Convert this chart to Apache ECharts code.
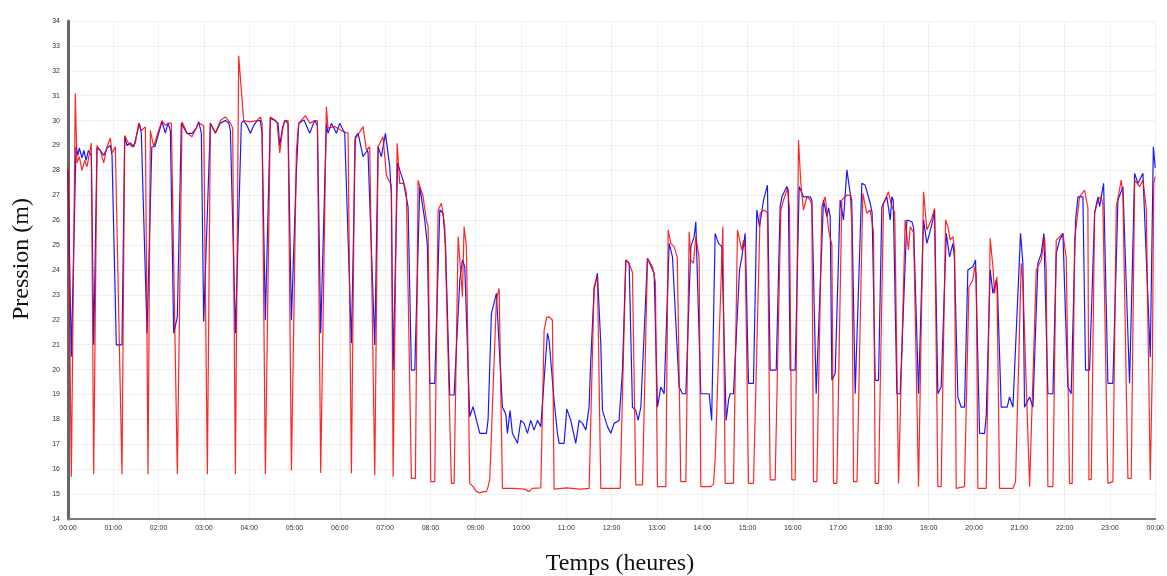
<!DOCTYPE html>
<html>
<head>
<meta charset="utf-8">
<script src="https://cdn.jsdelivr.net/npm/echarts@6/dist/echarts.min.js"></script>
<style>html,body{margin:0;padding:0;background:#fff}#c{width:1167px;height:576px}</style>
</head>
<body>
<div id="c"></div>
<script>
// time in minutes since 00:00, pressure in m
const hourLabels = ['00:00','01:00','02:00','03:00','04:00','05:00','06:00','07:00','08:00','09:00','10:00','11:00','12:00','13:00','14:00','15:00','16:00','17:00','18:00','19:00','20:00','21:00','22:00','23:00','00:00'];

const blueSeries = [
[0,28.0],[4.4,20.52],[10.6,28.95],[13,28.6],[15,28.9],[18.5,28.5],[21,28.8],[24,28.4],[27,28.8],[30.9,28.6],[34.0,21.0],
[38.4,28.9],[42.8,28.8],[47.3,28.6],[51.7,28.9],[56.1,29.0],[58.3,28.6],[64.0,20.99],[71.5,20.99],
[75.1,29.35],[78.2,29.0],[82.6,29.1],[87.0,28.95],[89.2,29.2],[94.5,29.89],[97.1,29.5],[104.7,21.46],
[111,28.95],[115,28.95],[124.5,29.96],[128.9,29.5],[132.5,29.9],[135.6,29.6],[140.0,21.46],[144.8,22.12],
[150.1,29.89],[157.6,29.49],[164.3,29.49],[170,29.7],[173.1,29.96],[176.6,29.5],[179.7,21.92],
[188.6,29.89],[195.2,29.49],[201.8,29.9],[208.4,30.0],[213,29.9],[215.1,29.6],[221.7,21.46],
[229.6,29.89],[232.7,30.0],[237,29.8],[241.6,29.49],[246,29.8],[250.4,30.0],[254.8,30.0],[257.0,29.5],[261.4,21.99],
[268.0,30.1],[274.7,30.0],[278.2,29.9],[280.4,29.0],[284,29.7],[287.0,30.0],[291.4,29.9],[295.9,21.99],
[302.5,28.0],[305.6,29.89],[306.9,29.96],[312.6,30.02],[320.2,29.49],[326.8,30.02],[330.3,29.8],[334.7,21.46],
[342.2,29.89],[344.4,29.49],[348.9,29.89],[355.5,29.49],[359.9,29.89],[364.3,29.62],[366.5,29.5],[375.4,21.06],
[380.6,29.35],[384.2,29.49],[390.8,28.55],[396.6,28.82],[397.4,28.7],[406.3,20.99],
[410.7,28.95],[415.1,28.55],[420.4,29.49],[426.1,28.15],[428.3,27.0],[430.6,19.98],
[436.5,28.3],[439.4,28.0],[443.8,27.61],[450.4,26.54],[454.8,19.98],[459.3,19.98],
[465.9,27.35],[472.5,26.01],[476,25.0],[479.1,19.45],[485.7,19.45],
[492.4,26.41],[496.8,26.28],[500,25.0],[505.6,18.98],[511.4,18.98],
[518.9,23.60],[522.4,24.40],[525.5,24.13],[532.1,18.11],[536.5,18.51],[540.9,17.98],[545.4,17.44],[554.2,17.44],[556.4,18.0],[560.8,22.26],[567.4,23.06],
[575.4,18.49],[579.8,18.22],[582.0,17.44],[585.5,18.36],[588.6,17.44],[595.3,17.04],[599.7,17.96],[604.1,17.84],[608.5,17.44],[612.9,17.96],[617.3,17.57],[621.8,17.96],[626.2,17.71],[635.0,21.46],[637.2,21.17],
[643.8,18.76],[648.2,17.44],[650.5,17.04],[657.1,17.04],[660.6,18.42],[665.9,17.96],[672.5,17.04],[677.0,17.96],[681.4,17.84],[685.8,17.57],[690.2,18.5],[692.4,20.39],[696.8,23.2],[701.2,23.87],[705.7,21.0],
[707.9,18.36],[714.5,17.71],[718.9,17.44],[723.3,17.84],[729.9,17.96],[734.4,20.0],[738.8,24.40],[743.2,24.27],[747.6,18.49],[752.0,18.36],[755.1,17.96],[758.7,18.49],
[767.5,24.47],[776.3,23.87],[780.7,18.49],[785.1,19.30],[789.6,19.03],
[796.2,25.07],[800.6,24.53],[809.4,19.30],[813.9,19.03],[818.3,19.03],
[824.9,24.94],[829.3,25.34],[831.5,25.94],[838.1,19.03],[849.2,19.03],[852.5,17.96],
[857.1,25.47],[861.5,25.07],[866.0,24.94],[871.7,17.96],[874.8,18.76],[877.0,19.03],[881.4,19.03],
[889.4,24.0],[892.5,24.53],[896.9,25.47],[901.3,19.45],[907.9,19.45],
[912.3,26.41],[915.9,25.74],[921.2,26.81],[926.4,27.41],[930.0,19.98],[938.0,19.98],
[943.2,26.54],[945.5,26.94],[952.1,27.35],[954,27.2],[956.5,19.98],[963.1,19.98],
[968.4,27.35],[974.1,26.94],[983.0,26.94],[985.2,26.8],[990.9,19.03],
[1000.6,26.81],[1005.1,26.14],[1007.3,26.5],[1009.5,26.14],[1011.7,19.57],[1016.1,19.85],
[1022.7,26.81],[1027.1,26.01],[1031.6,28.02],[1036.0,27.08],[1038,26.8],[1042.6,19.03],
[1051.4,27.48],[1055.8,27.41],[1062.5,26.68],[1065,26.3],[1069.1,19.57],[1073.5,19.57],
[1077.9,26.54],[1084.5,26.94],[1089.0,26.01],[1091.2,26.94],[1093,26.8],[1097.8,19.03],[1102.2,19.03],
[1111.0,26.01],[1117.7,25.94],[1120,25.7],[1126.5,19.03],
[1133.1,26.01],[1137.5,25.07],[1141.1,25.47],[1145.5,26.01],[1147.7,26.41],[1152.1,19.03],[1156.5,19.30],
[1163.2,25.47],[1167.6,24.53],[1172.0,25.07],[1174,24.5],[1178.6,18.90],[1183.0,18.49],[1187.4,18.49],
[1191.8,24.0],[1198.5,24.13],[1202.0,24.40],[1207.3,17.44],[1213.9,17.44],[1216.1,18.11],
[1221.4,24.0],[1225.0,23.06],[1229.4,23.60],[1231,23.3],[1236.0,18.49],[1244,18.49],[1247.0,18.90],[1251.5,18.49],
[1261.6,25.47],[1264.7,24.27],[1266.9,18.49],[1273.6,18.90],[1278.0,18.49],
[1284.6,24.27],[1289.0,24.67],[1292.5,25.47],[1297.8,19.03],[1304.5,19.03],
[1308.9,24.67],[1313.3,25.20],[1317.7,25.47],[1324.3,19.30],[1328.7,19.03],
[1334.5,26.01],[1337.6,26.94],[1344.2,26.94],[1347.7,19.98],[1353.0,19.98],
[1359.7,26.28],[1364.1,26.94],[1366.3,26.54],[1371.6,27.48],[1377.3,19.45],[1383.9,19.45],
[1390.6,26.81],[1397.2,27.35],[1406.0,19.45],
[1412.7,27.88],[1417.1,27.48],[1423.7,27.88],[1433.4,20.50],[1437.5,28.95],[1440,28.1]
];

const redSeries = [
[0,28.15],[4.4,15.7],[9.7,31.1],[11.9,28.3],[15.0,28.55],[18.5,28.0],[22.1,28.4],[25.2,28.15],[30.9,29.1],[34.0,15.8],
[38.4,29.0],[42.8,28.8],[47.3,28.3],[51.7,28.95],[56.1,29.3],[58.3,28.7],[62.7,28.95],[64.9,29.0],[71.5,15.8],
[75.1,29.4],[80,29.1],[85,28.95],[89.2,29.1],[93.6,29.9],[97.1,29.6],[102.5,29.75],[106.0,15.8],
[109.1,29.6],[113.5,28.95],[117.9,29.4],[124.5,30.0],[128.9,29.8],[132.5,29.9],[136.9,29.9],[144.8,15.8],
[151.0,29.95],[157.6,29.5],[164.3,29.35],[173.1,29.9],[179.7,29.8],[184.6,15.8],
[188.6,29.9],[195.2,29.5],[201.8,30.0],[208.4,30.15],[215.1,29.9],[218.1,29.7],[221.7,15.8],
[226.1,32.6],[229.6,31.2],[232.7,30.0],[241.6,29.95],[250.4,30.0],[254.8,30.15],[257.0,29.9],[261.4,15.8],
[268.0,30.15],[274.7,30.0],[277.0,29.9],[280.4,28.7],[284.0,29.6],[287.0,30.0],[291.4,30.0],[295.9,15.95],
[302.5,28.8],[305.6,29.9],[314.4,30.2],[320.2,29.9],[326.8,30.0],[330.3,30.0],[334.7,15.85],
[342.2,30.56],[344.4,29.7],[353.3,29.76],[364.3,29.56],[370.9,29.5],[375.4,15.84],
[379.8,29.22],[390.8,29.76],[395.2,28.82],[399.6,28.95],[401.8,28.9],[406.3,15.77],
[410.7,28.95],[417.3,29.35],[421.7,27.8],[428.3,27.4],[430.6,15.7],
[435.9,29.09],[439.4,27.48],[445.1,27.48],[448.2,27.08],[454.8,15.63],[460.1,15.63],
[463.7,27.6],[470.3,26.94],[474.7,26.0],[476.9,25.74],[480.5,15.5],[485.7,15.5],
[490.2,26.41],[494.6,26.68],[499.0,25.74],[507.8,15.43],[511.4,15.43],
[516.7,25.34],[520.2,23.9],[522.4,22.93],[524.6,25.74],[527.7,24.94],[532.1,15.43],[536.5,15.3],[540.9,15.1],[545.4,15.05],[550,15.1],[554.2,15.1],[556.4,15.3],[558.6,15.6],
[567.4,22.8],[571.0,23.26],[575.4,15.23],[590,15.23],[605,15.2],[610.7,15.1],[615,15.23],[626.2,15.25],[628.4,15.3],
[630.6,21.59],[634,22.1],[637.2,22.12],[641.6,21.99],[643.8,15.2],[660.6,15.25],[677,15.2],[690.2,15.23],
[696.8,23.33],[701.2,23.73],[705.7,15.23],[731.3,15.23],
[738.8,24.40],[743.2,24.27],[747.6,23.9],[752.0,15.37],[760.9,15.37],
[767.5,24.47],[774.1,24.13],[778,23.5],[780.7,15.30],[791.8,15.30],
[794.9,25.61],[798.4,25.07],[802.8,24.94],[807,24.5],[811.6,15.5],[818.3,15.5],
[822.7,25.54],[824.9,24.40],[828.4,24.27],[831.5,25.34],[835.9,24.5],[838.1,15.30],[851.4,15.30],
[854.9,15.4],[857.1,16.37],[867.3,25.74],[870.4,15.43],[881.4,15.43],
[886.7,25.61],[892.5,24.80],[894.7,25.20],[896.9,24.9],[901.3,15.43],[907.9,15.43],
[916.7,26.28],[922.0,26.41],[926.4,26.3],[930.0,15.57],[936.6,15.57],
[944.1,26.41],[947.7,26.81],[953.0,27.28],[955.6,26.5],[958.7,15.57],[963.1,15.57],
[967.5,29.22],[970.6,27.48],[974.1,26.41],[978.6,26.94],[983.0,26.81],[985.2,26.6],[987.4,15.50],[991.8,15.50],
[998.4,26.54],[1002.9,26.94],[1005.1,26.28],[1007.3,25.61],[1011.7,25.0],[1013.9,15.43],[1018.3,15.43],
[1024.9,26.81],[1031.6,27.01],[1036.0,27.0],[1038,26.0],[1040.4,15.50],[1045,15.5],
[1052.7,27.08],[1058.0,26.28],[1062.5,26.41],[1066.9,25.5],[1069.1,15.43],[1073.5,15.43],
[1080.1,26.68],[1086.7,27.14],[1091.2,26.54],[1095,26.3],[1100.0,15.43],[1102.2,15.43],
[1108.8,26.01],[1113.2,24.80],[1115.5,25.74],[1120,25.5],[1126.5,15.30],[1129,15.3],
[1133.1,27.14],[1137.5,25.61],[1143.3,26.01],[1147.7,26.47],[1152.1,15.30],[1156.5,15.3],
[1162.3,26.01],[1165.4,25.74],[1168.5,25.2],[1172.0,25.34],[1174.2,24.8],[1176.4,15.23],[1187.4,15.30],
[1193.2,23.33],[1198.5,23.60],[1200.7,24.13],[1203,23.8],[1205.1,15.23],[1216.1,15.23],
[1221.4,25.27],[1225.0,24.13],[1227.2,23.06],[1230.3,23.73],[1233.8,15.23],[1251.5,15.23],[1255.0,15.5],
[1262.5,24.27],[1264.7,23.5],[1273.6,15.30],[1276,15.3],
[1282.4,24.0],[1289.0,24.4],[1293.4,25.34],[1295.6,24],[1297.8,15.30],[1304.5,15.30],
[1308.9,25.20],[1317.7,25.47],[1322.1,24.5],[1326.5,15.43],[1330,15.43],
[1333.2,25.20],[1339.8,26.94],[1346.4,27.21],[1350.8,26.5],[1352.2,15.57],[1355.3,15.6],
[1359.7,26.28],[1364.1,26.81],[1368.5,26.94],[1370.7,26.6],[1377.3,15.43],[1383.9,15.5],
[1388.4,26.54],[1395.0,27.61],[1397.2,27.0],[1403.8,15.63],[1408.2,15.63],
[1412.7,27.61],[1419.3,27.35],[1423.7,27.61],[1428.1,26.5],[1433.4,15.57],[1436.1,20],[1438,27.48],[1440,27.75]
];

const chart = echarts.init(document.getElementById('c'), null, {renderer:'canvas'});
chart.setOption({
  backgroundColor:'#ffffff',
  animation:false,
  grid:{left:68, right:11, top:21, bottom:57},
  xAxis:{
    type:'value', min:0, max:1440, interval:60,
    axisLine:{show:true, onZero:false, lineStyle:{color:'#7a7a7a', width:2}},
    axisTick:{show:false},
    splitLine:{show:true, lineStyle:{color:'#f0f0f0', width:1}},
    axisLabel:{fontSize:7, color:'#333', fontFamily:'Liberation Sans', margin:6,
      formatter:function(v){ return hourLabels[Math.round(v/60)]; }}
  },
  yAxis:{
    type:'value', min:14, max:34, interval:1,
    axisLine:{show:true, lineStyle:{color:'#666', width:3}},
    axisTick:{show:false},
    splitLine:{show:true, lineStyle:{color:'#f0f0f0', width:1}},
    axisLabel:{fontSize:7, color:'#333', fontFamily:'Liberation Sans', margin:8}
  },
  graphic:[
    {type:'text', x:620, y:564, style:{text:'Temps (heures)', font:'24px "Liberation Serif"', fill:'#111', textAlign:'center', textVerticalAlign:'middle'}},
    {type:'text', x:22, y:259, rotation:Math.PI/2, style:{text:'Pression (m)', font:'24px "Liberation Serif"', fill:'#111', textAlign:'center', textVerticalAlign:'middle'}}
  ],
  series:[
    {name:'Pression bleue', type:'line', data:blueSeries, showSymbol:false, symbol:'none',
      lineStyle:{color:'#0000ff', width:1.2, opacity:0.9}, z:2},
    {name:'Pression rouge', type:'line', data:redSeries, showSymbol:false, symbol:'none',
      lineStyle:{color:'#ff0000', width:1.2, opacity:0.85}, z:3}
  ]
});
</script>
</body>
</html>
